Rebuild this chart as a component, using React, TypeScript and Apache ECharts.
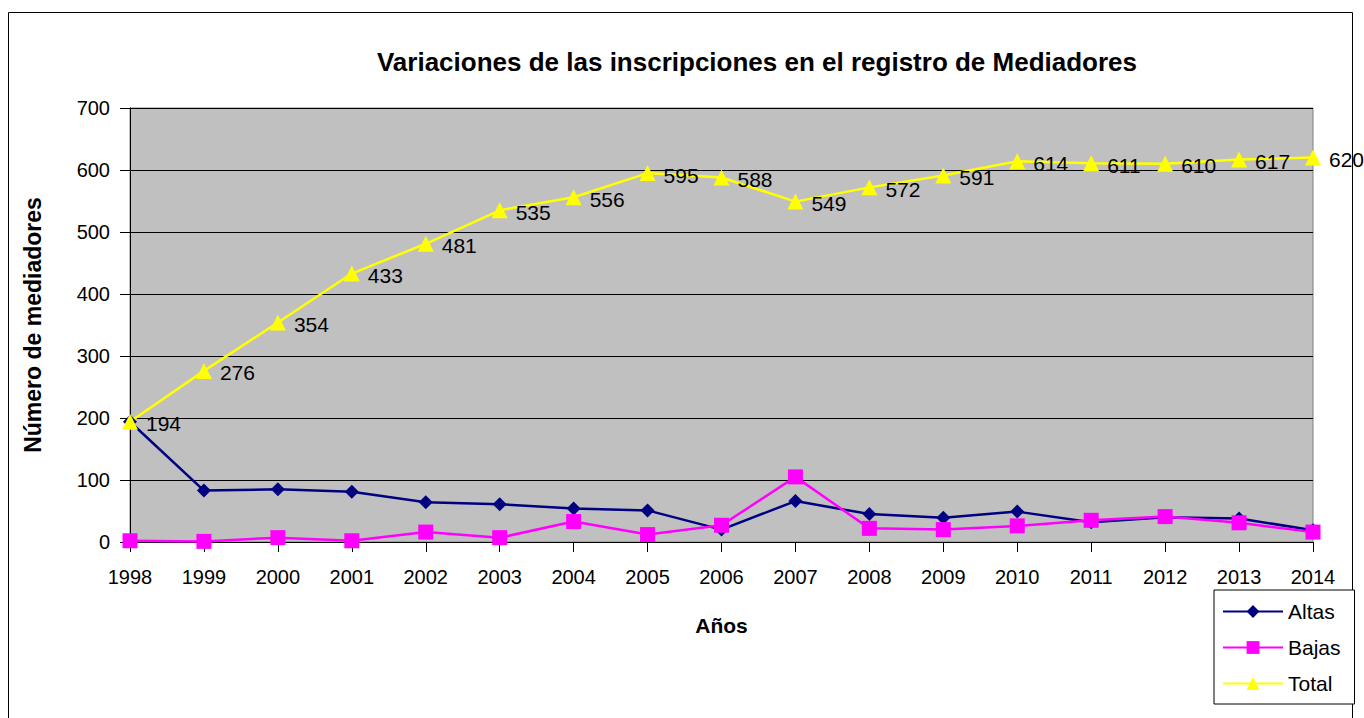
import React, { useEffect, useRef } from "react";
import * as echarts from "echarts";

const years = ["1998","1999","2000","2001","2002","2003","2004","2005","2006","2007","2008","2009","2010","2011","2012","2013","2014"];
const altas = [194, 83, 85, 81, 64, 61, 54, 51, 20, 66, 45, 39, 49, 32, 40, 38, 19];
const bajas = [2, 1, 7, 2, 16, 7, 33, 12, 27, 105, 22, 20, 26, 35, 41, 31, 16];
const total = [194, 276, 354, 433, 481, 535, 556, 595, 588, 549, 572, 591, 614, 611, 610, 617, 620];

const FONT = "'Liberation Sans', Arial, sans-serif";

export default function App() {
  const ref = useRef<HTMLDivElement>(null);
  useEffect(() => {
    const chart = echarts.init(ref.current!, null, { renderer: "svg" });
    chart.setOption({
      animation: false,
      backgroundColor: "#ffffff",
      textStyle: { fontFamily: FONT, color: "#000" },
      title: {
        text: "Variaciones de las inscripciones en el registro de Mediadores",
        left: 752,
        textAlign: "center",
        top: 44,
        textStyle: { fontFamily: FONT, fontSize: 26, fontWeight: "bold", color: "#000" },
      },
      graphic: [
        {
          type: "rect",
          shape: { x: 8.5, y: 12.5, width: 1344, height: 720 },
          style: { fill: "none", stroke: "#000", lineWidth: 1 },
          silent: true,
        },
      ],
      legend: {
        orient: "vertical",
        left: 1214,
        top: 590,
        width: 137,
        padding: [11, 14, 10, 8],
        itemGap: 15,
        itemWidth: 60,
        itemHeight: 16,
        borderColor: "#000",
        borderWidth: 1,
        backgroundColor: "#fff",
        textStyle: { fontFamily: FONT, fontSize: 21, color: "#000" },
        data: ["Altas", "Bajas", "Total"],
      },
      grid: {
        left: 130,
        right: 51,
        top: 108,
        bottom: 176,
        show: true,
        backgroundColor: "#C0C0C0",
        borderColor: "#808080",
        borderWidth: 1,
      },
      xAxis: {
        type: "category",
        data: years,
        boundaryGap: false,
        name: "Años",
        nameLocation: "middle",
        nameGap: 73,
        nameTextStyle: { fontFamily: FONT, fontSize: 21, fontWeight: "bold", color: "#000" },
        axisLine: { lineStyle: { color: "#000", width: 1 } },
        axisTick: { show: true, alignWithLabel: true, length: 10, lineStyle: { color: "#000" } },
        axisLabel: { fontFamily: FONT, fontSize: 20, color: "#000", margin: 25 },
        splitLine: { show: false },
      },
      yAxis: {
        type: "value",
        min: 0,
        max: 700,
        interval: 100,
        name: "Número de mediadores",
        nameLocation: "middle",
        nameGap: 86,
        nameTextStyle: { fontFamily: FONT, fontSize: 23, fontWeight: "bold", color: "#000" },
        axisLine: { show: true, lineStyle: { color: "#000", width: 1 } },
        axisTick: { show: true, length: 10, lineStyle: { color: "#000" } },
        axisLabel: { fontFamily: FONT, fontSize: 20, color: "#000", margin: 20 },
        splitLine: { show: true, lineStyle: { color: "#000", width: 1 } },
      },
      series: [
        {
          name: "Altas",
          type: "line",
          data: altas,
          symbol: "diamond",
          symbolSize: 14,
          itemStyle: { color: "#000080" },
          lineStyle: { color: "#000080", width: 2.5 },
        },
        {
          name: "Bajas",
          type: "line",
          data: bajas,
          symbol: "rect",
          symbolSize: 15,
          itemStyle: { color: "#FF00FF" },
          lineStyle: { color: "#FF00FF", width: 2.5 },
        },
        {
          name: "Total",
          type: "line",
          data: total,
          symbol: "triangle",
          symbolSize: 16,
          itemStyle: { color: "#FFFF00" },
          lineStyle: { color: "#FFFF00", width: 2.5 },
          label: {
            show: true,
            position: "right",
            distance: 8,
            offset: [0, 2],
            fontFamily: FONT,
            fontSize: 21,
            color: "#000",
          },
        },
      ],
    });
    return () => chart.dispose();
  }, []);
  return (
    <div
      ref={ref}
      style={{ position: "absolute", left: 0, top: 0, width: 1364, height: 718 }}
    />
  );
}
